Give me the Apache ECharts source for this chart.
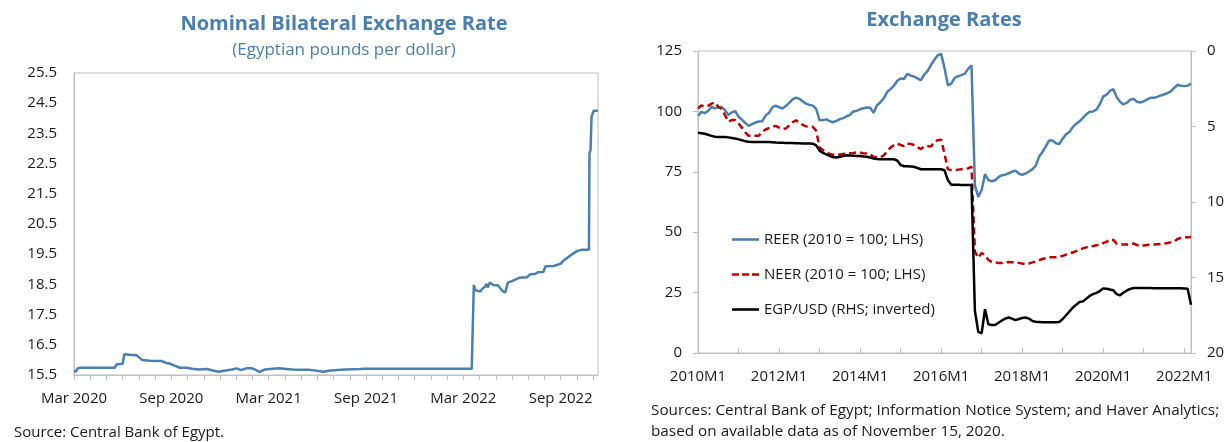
<!DOCTYPE html>
<html>
<head>
<meta charset="utf-8">
<script src="https://cdn.jsdelivr.net/npm/echarts@6/dist/echarts.min.js"></script>
<style>
html,body{margin:0;padding:0;background:#fff;}
#c{width:1228px;height:442px;}
</style>
</head>
<body>
<div id="c"></div>
<script>
// ---------- Left panel data: EGP per USD ----------
const bilateralDates = ['2020-03-01','2020-03-05','2020-03-08','2020-03-12','2020-05-17','2020-05-20','2020-06-01','2020-06-04','2020-06-14','2020-06-27','2020-07-07','2020-07-10','2020-07-22','2020-08-14','2020-08-22','2020-08-29','2020-09-08','2020-09-17','2020-09-30','2020-10-09','2020-10-24','2020-11-07','2020-11-16','2020-11-28','2020-12-09','2020-12-24','2021-01-02','2021-01-10','2021-01-20','2021-01-31','2021-02-07','2021-02-13','2021-02-22','2021-03-04','2021-03-19','2021-03-30','2021-04-15','2021-04-29','2021-05-18','2021-06-03','2021-06-12','2021-06-25','2021-07-23','2021-08-21','2021-08-30','2022-03-17','2022-03-21','2022-03-24','2022-04-02','2022-04-07','2022-04-11','2022-04-14','2022-04-16','2022-04-20','2022-04-26','2022-05-06','2022-05-13','2022-05-19','2022-05-24','2022-06-01','2022-06-14','2022-06-29','2022-07-04','2022-07-15','2022-07-19','2022-07-30','2022-08-03','2022-08-19','2022-09-01','2022-09-07','2022-09-19','2022-10-02','2022-10-11','2022-10-24','2022-10-25','2022-10-27','2022-10-29','2022-11-02','2022-11-10'];
const bilateralValues = [15.62,15.62,15.72,15.74,15.74,15.85,15.87,16.19,16.17,16.15,16.0,15.94,15.97,15.96,15.9,15.88,15.8,15.74,15.74,15.71,15.68,15.7,15.66,15.61,15.64,15.68,15.72,15.66,15.72,15.72,15.67,15.6,15.68,15.7,15.72,15.71,15.68,15.67,15.67,15.63,15.61,15.65,15.68,15.70,15.71,15.71,18.48,18.31,18.26,18.37,18.42,18.52,18.40,18.56,18.48,18.46,18.29,18.23,18.56,18.61,18.72,18.74,18.83,18.85,18.9,18.91,19.1,19.11,19.19,19.3,19.46,19.61,19.65,19.65,22.84,22.95,24.05,24.25,24.25];
const bilateralStart = '2020-03-01';
const bilateralEnd = '2022-11-10';
const bilateralTickLabels = ['Mar 2020','Sep 2020','Mar 2021','Sep 2021','Mar 2022','Sep 2022'];

// ---------- Right panel data: monthly 2010M1 - 2022M3 ----------
const monthStart = [2010, 1];
const monthEnd = [2022, 3];
const reer = [98.1,99.8,99.3,100.2,101.8,101.3,101.6,101.8,100.5,98.5,
99.6,100.1,97.8,96.6,95.2,94.0,94.7,95.4,95.8,95.9,
98.3,99.3,101.7,102.4,101.7,101.2,102.2,103.5,105.0,105.7,
105.2,104.2,103.2,102.7,102.4,101.0,96.3,96.4,96.7,96.0,
95.5,96.1,96.8,97.2,98.0,98.6,100.0,100.2,100.9,101.3,
101.6,101.5,99.4,102.5,103.8,105.4,108.0,109.2,110.6,112.7,
113.6,113.4,115.6,114.8,114.4,113.7,112.9,115.2,116.8,119.2,
121.4,123.2,123.8,118.0,110.8,111.5,113.9,114.5,115.0,115.6,
117.6,119.0,69.4,64.6,67.5,74.0,71.5,71.1,71.5,72.8,
73.6,73.8,74.4,75.0,75.5,74.3,73.7,74.3,75.1,76.0,
77.5,81.2,83.2,85.5,88.0,88.0,86.8,86.5,88.7,90.5,
91.5,93.5,94.9,95.9,97.3,98.8,99.9,100.0,100.7,103.0,
106.2,106.9,108.5,109.2,105.9,104.0,102.9,103.6,104.8,105.2,
104.0,103.7,104.2,105.0,105.6,105.6,106.0,106.6,107.0,107.6,
108.3,109.7,111.0,110.6,110.5,110.6,111.5];
const neer = [101.2,102.5,102.0,102.3,103.2,103.7,101.9,101.0,98.4,95.7,
96.4,96.4,95.0,93.3,91.3,89.9,89.9,89.9,89.9,91.6,
92.5,93.1,93.6,94.0,93.3,92.7,92.9,94.2,95.5,96.3,
95.4,94.4,93.8,93.6,93.6,92.0,85.0,84.0,83.0,82.4,
82.1,81.9,82.2,82.4,82.6,82.7,82.8,83.0,82.9,82.7,
82.6,82.2,81.2,80.9,81.0,81.8,83.5,85.0,86.0,86.7,
86.1,85.6,86.6,86.5,86.1,85.2,84.4,85.5,85.6,85.5,
87.3,88.1,88.3,82.5,76.0,75.7,75.7,75.9,76.1,76.2,
76.4,77.1,42.0,39.4,41.4,40.5,38.5,37.7,37.5,37.3,
37.3,37.5,37.7,37.6,37.5,37.3,37.0,36.8,37.0,37.5,
37.8,38.4,38.9,39.3,39.6,39.6,39.6,39.8,40.2,40.7,
41.2,41.6,42.2,42.8,43.3,43.7,44.1,44.3,44.6,44.7,
45.5,46.0,47.0,46.8,45.2,44.9,44.9,44.9,45.1,45.3,
44.7,44.2,44.5,44.7,44.8,44.9,45.0,45.1,45.3,45.5,
45.8,46.0,47.2,47.6,47.8,47.9,48.0];
const egpusd = [5.42,5.45,5.48,5.55,5.62,5.68,5.69,5.69,5.70,5.72,
5.76,5.80,5.85,5.91,5.97,6.01,6.02,6.02,6.02,6.02,
6.03,6.03,6.04,6.06,6.07,6.08,6.09,6.09,6.10,6.11,
6.11,6.12,6.13,6.13,6.14,6.25,6.60,6.75,6.85,6.95,
7.02,7.05,7.00,6.95,6.90,6.92,6.93,6.95,6.96,6.98,
7.00,7.05,7.12,7.15,7.17,7.17,7.17,7.17,7.17,7.25,
7.55,7.63,7.63,7.65,7.67,7.75,7.83,7.83,7.83,7.83,
7.83,7.83,7.83,7.90,8.55,8.85,8.85,8.86,8.87,8.87,
8.87,8.87,17.2,18.6,18.7,17.1,18.1,18.15,18.15,18.0,
17.85,17.72,17.65,17.72,17.82,17.75,17.68,17.65,17.72,17.88,
17.93,17.95,17.97,17.97,17.97,17.97,17.97,17.95,17.75,17.5,
17.25,17.0,16.8,16.62,16.58,16.4,16.22,16.1,16.02,15.9,
15.72,15.74,15.8,15.85,16.1,16.18,16.0,15.86,15.76,15.7,
15.70,15.69,15.69,15.70,15.70,15.71,15.71,15.72,15.72,15.72,
15.71,15.71,15.72,15.72,15.73,15.74,16.8];
const seriesNames = ['REER (2010 = 100; LHS)', 'NEER (2010 = 100; LHS)', 'EGP/USD (RHS; inverted)'];

// ---------- helpers ----------
function monthsSinceStart(d) {
  const p = d.split('-').map(Number);
  const s = bilateralStart.split('-').map(Number);
  const dim = new Date(p[0], p[1], 0).getDate();
  return (p[0] - s[0]) * 12 + (p[1] - s[1]) + (p[2] - 1) / dim;
}
const bilateralData = bilateralDates.map((d, i) => [monthsSinceStart(d), bilateralValues[i]]);
const monthCats = [];
for (let y = monthStart[0], m = monthStart[1]; y < monthEnd[0] || (y === monthEnd[0] && m <= monthEnd[1]); ) {
  monthCats.push(y + 'M' + m);
  m++; if (m > 12) { m = 1; y++; }
}

const FONT = "'Open Sans', 'Noto Sans', sans-serif";
const AX = '#bfbfbf';
const TXT = '#1a1a1a';
const BLUE = '#4a7fb0';
const RED = '#c00000';
const TITLE = '#4a7eae';
const SOLID_ICON = 'path://M0,0H27V2.6H0Z';
const DASH_ICON = 'path://M0,0H7V2.6H0Z M10,0H17V2.6H10Z M20,0H27V2.6H20Z';

const chart = echarts.init(document.getElementById('c'), null, {renderer: 'canvas'});
chart.setOption({
  animation: false,
  backgroundColor: '#fff',
  textStyle: {fontFamily: FONT},
  graphic: [
    {type: 'text', x: 344, y: 24, style: {text: 'Nominal Bilateral Exchange Rate', font: 'bold 20px ' + FONT, fill: TITLE, textAlign: 'center', textVerticalAlign: 'middle'}},
    {type: 'text', x: 344, y: 50, style: {text: '(Egyptian pounds per dollar)', font: '17px ' + FONT, fill: TITLE, textAlign: 'center', textVerticalAlign: 'middle'}},
    {type: 'text', x: 944, y: 20, style: {text: 'Exchange Rates', font: 'bold 20px ' + FONT, fill: TITLE, textAlign: 'center', textVerticalAlign: 'middle'}},
    {type: 'text', x: 14, y: 433, style: {text: 'Source: Central Bank of Egypt.', font: '15px ' + FONT, fill: TXT, textAlign: 'left', textVerticalAlign: 'middle'}},
    {type: 'text', x: 651, y: 411, style: {text: 'Sources: Central Bank of Egypt; Information Notice System; and Haver Analytics;', font: '15.3px ' + FONT, fill: TXT, textAlign: 'left', textVerticalAlign: 'middle'}},
    {type: 'text', x: 651, y: 432, style: {text: 'based on available data as of November 15, 2020.', font: '15.3px ' + FONT, fill: TXT, textAlign: 'left', textVerticalAlign: 'middle'}}
  ],
  legend: {
    data: [
      {name: seriesNames[0], icon: SOLID_ICON},
      {name: seriesNames[1], icon: DASH_ICON},
      {name: seriesNames[2], icon: SOLID_ICON}
    ],
    orient: 'vertical',
    left: 727, top: 227,
    itemWidth: 27, itemHeight: 14, itemGap: 20,
    textStyle: {fontFamily: FONT, fontSize: 15, color: TXT}
  },
  grid: [
    {left: 74, right: 630, top: 73, bottom: 67, show: true, borderColor: AX, borderWidth: 1},
    {left: 698, right: 37, top: 51, bottom: 89, show: true, borderColor: AX, borderWidth: 1}
  ],
  xAxis: [
    {
      gridIndex: 0, type: 'value', min: 0, max: monthsSinceStart(bilateralEnd), interval: 1,
      axisLine: {show: true, lineStyle: {color: AX}},
      axisTick: {show: true, length: 5, lineStyle: {color: AX}},
      splitLine: {show: false},
      axisLabel: {
        margin: 16, fontSize: 15, color: TXT, fontFamily: FONT, showMaxLabel: false,
        formatter: v => {
          const k = Math.round(v);
          if (Math.abs(v - k) > 1e-6 || k % 6 !== 0) return '';
          return bilateralTickLabels[k / 6] || '';
        }
      }
    },
    {
      gridIndex: 1, type: 'category', data: monthCats, boundaryGap: false,
      axisLine: {show: true, lineStyle: {color: AX}},
      axisTick: {show: true, inside: true, length: 5, interval: 11, lineStyle: {color: AX}},
      splitLine: {show: false},
      axisLabel: {interval: 23, margin: 16, fontSize: 15, color: TXT, fontFamily: FONT}
    }
  ],
  yAxis: [
    {
      gridIndex: 0, type: 'value', min: 15.5, max: 25.5, interval: 0.5,
      axisLine: {show: true, lineStyle: {color: AX}},
      axisTick: {show: false},
      splitLine: {show: false},
      axisLabel: {
        margin: 17, fontSize: 15, color: TXT, fontFamily: FONT,
        formatter: v => {
          const d = v - 15.5;
          return Math.abs(d - Math.round(d)) < 1e-6 ? v.toFixed(1) : '';
        }
      }
    },
    {
      gridIndex: 1, type: 'value', min: 0, max: 125, interval: 25, position: 'left',
      axisLine: {show: true, lineStyle: {color: AX}},
      axisTick: {show: true, length: 5, lineStyle: {color: AX}},
      splitLine: {show: false},
      axisLabel: {margin: 16, fontSize: 15, color: TXT, fontFamily: FONT}
    },
    {
      gridIndex: 1, type: 'value', min: 0, max: 20, interval: 5, position: 'right', inverse: true,
      axisLine: {show: true, lineStyle: {color: AX}},
      axisTick: {show: true, length: 5, lineStyle: {color: AX}},
      splitLine: {show: false},
      axisLabel: {margin: 16, fontSize: 15, color: TXT, fontFamily: FONT}
    }
  ],
  series: [
    {
      type: 'line', xAxisIndex: 0, yAxisIndex: 0, data: bilateralData,
      symbol: 'none', lineStyle: {color: BLUE, width: 2.5}, itemStyle: {color: BLUE}
    },
    {
      name: seriesNames[0], type: 'line', xAxisIndex: 1, yAxisIndex: 1, data: reer,
      symbol: 'none', lineStyle: {color: BLUE, width: 2.5}, itemStyle: {color: BLUE}
    },
    {
      name: seriesNames[1], type: 'line', xAxisIndex: 1, yAxisIndex: 1, data: neer,
      symbol: 'none', lineStyle: {color: RED, width: 2.5, type: [7, 4]}, itemStyle: {color: RED}
    },
    {
      name: seriesNames[2], type: 'line', xAxisIndex: 1, yAxisIndex: 2, data: egpusd,
      symbol: 'none', lineStyle: {color: '#000', width: 2.5}, itemStyle: {color: '#000'}
    }
  ]
});
</script>
</body>
</html>
